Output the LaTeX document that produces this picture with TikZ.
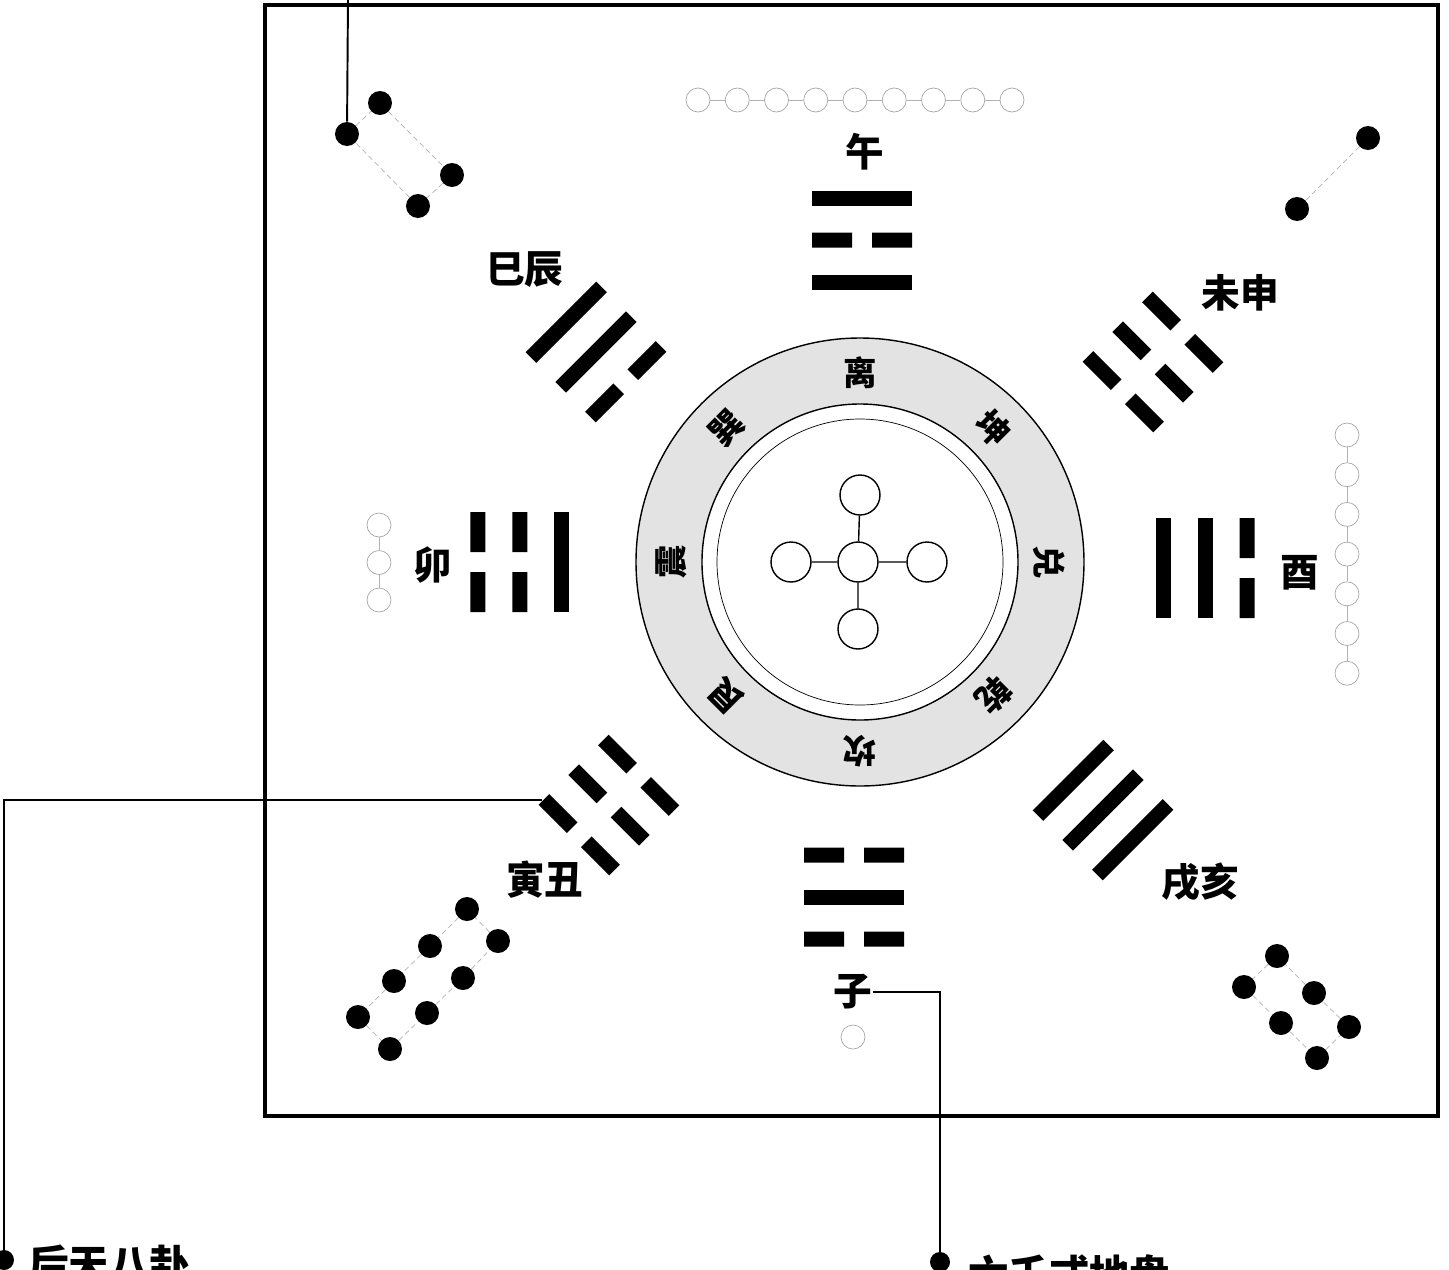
\documentclass[tikz,border=0pt]{standalone}
\usepackage{fontspec}
\newfontfamily\cjk{Noto Sans CJK SC}
\usetikzlibrary{calc}

\begin{document}
\begin{tikzpicture}[x=0.02cm,y=0.02cm,
  lab/.style={font=\cjk\bfseries\fontsize{22}{24}\selectfont,inner sep=0pt},
  gua/.style={font=\cjk\bfseries\fontsize{19}{21}\selectfont,inner sep=0pt},
  hei/.style={circle,fill=black,inner sep=0pt,minimum size=0.48cm},
  bai/.style={circle,draw=gray!70,thin,inner sep=0pt,minimum size=0.48cm},
  ling/.style={circle,draw=black,thick,fill=white,inner sep=0pt,minimum size=0.8cm},
  lian/.style={gray!60,thin,densely dashed}]
\useasboundingbox (-860,-707) rectangle (589,562);
\clip (-860,-707) rectangle (589,562);
\draw[line width=1.8pt] (-595,-554) rectangle (578,557);
% ring
\fill[gray!22] (0,0) circle (224);
\fill[white] (0,0) circle (158);
\draw[thick] (0,0) circle (224) (0,0) circle (158);
\draw (0,0) circle (143);
\foreach \a/\g in {90/离,45/坤,0/兑,-45/乾,-90/坎,-135/艮,180/震,135/巽}
  \node[gua,rotate=\a-90] (r\a) at (\a:189) {\g};
% cross
\node[ling] (c0) at (-2,0) {};
\node[ling] (cn) at (0,67) {};
\node[ling] (cs) at (-2,-67) {};
\node[ling] (cw) at (-69,0) {};
\node[ling] (ce) at (67,0) {};
\draw[thick] (c0) -- (cn) (c0) -- (cs) (c0) -- (cw) (c0) -- (ce);
% trigrams
\foreach \x/\y/\r/\a/\b/\c in {2/322/0/1/0/1, 293/200/-45/0/0/0, 345/-6/-90/1/1/0, 243/-248/-135/1/1/1,
  -6/-335/180/0/1/0, -251/-243/135/0/0/0, -340/0/90/1/0/0, -264/210/45/0/1/1}{
  \begin{scope}[shift={(\x,\y)},rotate=\r]
    \foreach \k/\t in {-42/\a,0/\b,42/\c}{
      \ifnum\t=1 \fill (-50,\k-7.5) rectangle (50,\k+7.5);
      \else \fill (-50,\k-7.5) rectangle (-10,\k+7.5) (10,\k-7.5) rectangle (50,\k+7.5);
      \fi}
  \end{scope}}
\node[lab] (wu) at (5,410) {午};
\node[lab] (weishen) at (380,269) {未申};
\node[lab] (you) at (440,-11) {酉};
\node[lab] (xuhai) at (340,-320) {戌亥};
\node[lab] (zi) at (-7,-430) {子};
\node[lab] (yinchou) at (-315,-318) {寅丑};
\node[lab] (mao) at (-427,-3) {卯};
\node[lab] (sichen) at (-335,292) {巳辰};
% nine
\foreach \i in {0,...,8} \node[bai] (n\i) at (-162+39.25*\i,462) {};
\foreach \i [count=\j] in {0,...,7} \draw[gray!60] (n\i) -- (n\j);
% seven
\foreach \i in {0,...,6} \node[bai] (q\i) at (487,127-39.7*\i) {};
\foreach \i [count=\j] in {0,...,5} \draw[gray!60] (q\i) -- (q\j);
% three
\foreach \i in {0,1,2} \node[bai] (s\i) at (-481,37-37.5*\i) {};
\draw[gray!60] (s0) -- (s1) (s1) -- (s2);
% one
\node[bai] (y0) at (-7,-475) {};
% two
\node[hei] (e0) at (508,424) {};
\node[hei] (e1) at (437,353) {};
\draw[lian] (e0) -- (e1);
% four
\node[hei] (f0) at (-480,459) {};
\node[hei] (f1) at (-513,428) {};
\node[hei] (f2) at (-408,387) {};
\node[hei] (f3) at (-442,356) {};
\draw[lian] (f1) -- (f0) (f0) -- (f2) (f2) -- (f3) (f3) -- (f1);
% eight
\foreach \i/\p in {0/{(-393,-347)},1/{(-430,-384)},2/{(-466,-419)},3/{(-502,-455)},
  4/{(-470,-487)},5/{(-433,-451)},6/{(-397,-416)},7/{(-362,-379)}}
  \node[hei] (b\i) at \p {};
\foreach \i [count=\j] in {0,...,6} \draw[lian] (b\i) -- (b\j);
\draw[lian] (b7) -- (b0);
% six
\foreach \i/\p in {0/{(417,-394)},1/{(384,-425)},2/{(421,-461)},3/{(457,-496)},
  4/{(489,-465)},5/{(454,-431)}}
  \node[hei] (l\i) at \p {};
\foreach \i [count=\j] in {0,...,4} \draw[lian] (l\i) -- (l\j);
\draw[lian] (l5) -- (l0);
% callouts
\coordinate (top) at (-512,562);
\draw[line width=1.1pt] (top) -- (f1);
\coordinate (guaend) at (-318,-238);
\node[hei,minimum size=0.4cm] (dotA) at (-856,-698) {};
\draw[line width=1.1pt] (guaend) -| (dotA);
\node[lab,anchor=west,font=\cjk\bfseries\fontsize{23}{25}\selectfont] (houtian) at (-832,-702) {后天八卦};
\node[hei,minimum size=0.4cm] (dotB) at (80,-700) {};
\draw[line width=1.1pt] (zi.east) -| (dotB);
\node[lab,anchor=west,font=\cjk\bfseries\fontsize{23}{25}\selectfont] (liuren) at (108,-712) {六壬式地盘};
\end{tikzpicture}
\end{document}
